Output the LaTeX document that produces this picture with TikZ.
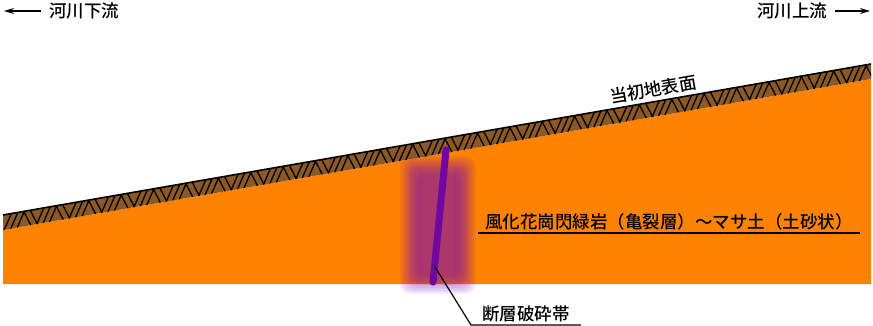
\documentclass[tikz,border=0pt]{standalone}
\usepackage{fontspec}
\newfontfamily\jpfont{Noto Sans CJK JP Medium}
\usetikzlibrary{arrows.meta,calc,positioning}
\definecolor{soil}{RGB}{255,130,0}
\definecolor{topsoil}{RGB}{140,88,38}
\definecolor{fault}{RGB}{112,8,160}
\definecolor{haze}{RGB}{120,10,190}
\tikzset{
section/.style={x=1pt,y=-1pt,>={Stealth[length=10pt,width=6pt]},
font=\jpfont\fontsize{17.5}{20}\selectfont},
river/.style={inner xsep=8pt,inner ysep=2pt},
legend/.style={inner ysep=3pt},
hatch/.style={black,line width=1.3pt},
}
\begin{document}
\begin{tikzpicture}[section]
    \useasboundingbox (0,0) rectangle (873,326);
    % ground surface band and the granodiorite below it
    \coordinate (tl) at (3,215);
    \coordinate (tr) at (871,64);
    \coordinate (bl) at (3,230);
    \coordinate (br) at (871,79);
    \fill[soil] (bl) -- (br) -- (871,284) -- (3,284) -- cycle;
    \fill[topsoil] (tl) -- (tr) -- (br) -- (bl) -- cycle;
    \begin{scope}
        \clip (tl) -- (tr) -- (br) -- (bl) -- cycle;
        \foreach \i in {0,...,136} {
            \pgfmathsetmacro\t{(\i+0.2)/134}
            \pgfmathsetmacro\u{(\i+1.3)/134}
            \pgfmathtruncatemacro\k{mod(\i,5)}
            \ifnum\k>2
                \draw[hatch] ($(tl)!\t!(tr)$) -- ($(bl)!\u!(br)$);
            \else
                \draw[hatch] ($(bl)!\t!(br)$) -- ($(tl)!\u!(tr)$);
            \fi
        }
    \end{scope}
    \draw[line width=1.6pt] (tl) -- (tr);

    % fault crush zone
    \foreach \d in {0,...,11}
        \fill[haze,opacity=0.07,rounded corners=10pt]
            (400+1.6*\d,156+1.6*\d) rectangle (476-1.6*\d,294-1.6*\d);
    \foreach \x in {416,460}
        \fill[haze,opacity=0.08,rounded corners=5pt]
            (\x-7,166) rectangle (\x+7,282);
    \coordinate (ftop) at (446,150);
    \coordinate (fbot) at (433,282);
    \coordinate (fmid) at ($(ftop)!0.88!(fbot)$);
    \draw[fault,line width=7pt,line cap=round] (ftop) -- (fbot);

    % labels
    \node[river] (dn) at (84,11) {河川下流};
    \node[river] (up) at (792,11) {河川上流};
    \coordinate (dnend) at (4,11);
    \coordinate (upend) at (870,11);
    \draw[->,line width=1.3pt] (dn) -- (dnend);
    \draw[->,line width=1.3pt] (up) -- (upend);

    \node[rotate=9.9] (surf) at (653,89) {当初地表面};

    \node[legend,anchor=south west,inner xsep=7pt] (rock) at (478,233)
        {風化花崗閃緑岩（亀裂層）～マサ土（土砂状）};
    \draw[line width=1.2pt] (rock.south west) -- (rock.south east);

    \node[legend,anchor=south west,inner xsep=11pt] (crush) at (471,325) {断層破砕帯};
    \draw[line width=1.2pt] (fmid) -- (crush.south west) -- (crush.south east);
\end{tikzpicture}
\end{document}
